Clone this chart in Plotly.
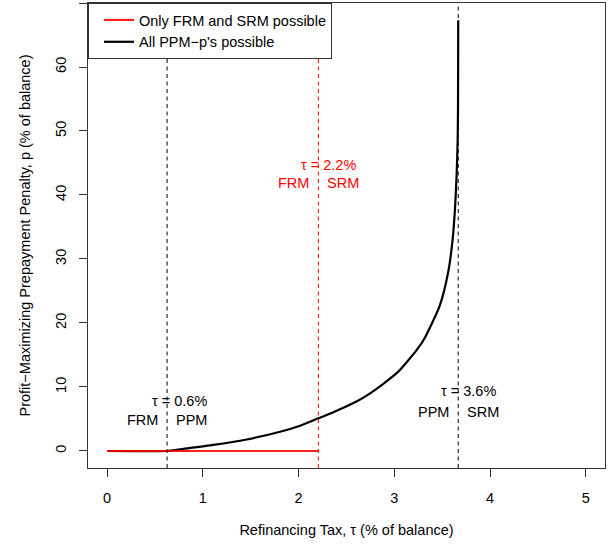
import plotly.graph_objects as go

# Profit-maximizing prepayment penalty as a function of the refinancing tax
tau_all = [0.0, 0.626, 0.76, 1.11, 1.458, 1.806, 2.015, 2.206, 2.362, 2.589,
           2.71, 2.884, 3.041, 3.232, 3.319, 3.476, 3.563, 3.608, 3.633,
           3.650, 3.661, 3.665, 3.667]
p_all = [0.0, 0.0, 0.26, 0.94, 1.8, 3.0, 3.95, 5.1, 6.05, 7.6,
         8.65, 10.5, 12.4, 15.75, 17.7, 22.8, 28.0, 33.0, 37.8,
         43.0, 48.6, 54.0, 67.3]

# Only fixed-rate and standard-rate mortgages: penalty stays at zero
tau_frm_srm = [0.0, 2.206]
p_frm_srm = [0.0, 0.0]

# Regime thresholds (tau values) and their labels
thresholds = [0.626, 2.206, 3.667]
threshold_colors = ["black", "red", "black"]
threshold_text = ["τ = 0.6%", "τ = 2.2%", "τ = 3.6%"]
text_x = [0.755, 2.313, 3.776]
text_y = [7.85, 44.7, 9.3]
left_labels = ["FRM", "FRM", "PPM"]
right_labels = ["PPM", "SRM", "SRM"]
side_y = [4.85, 41.9, 6.1]

x_ticks = [0, 1, 2, 3, 4, 5]
y_ticks = [0, 10, 20, 30, 40, 50, 60, 70]

FONT = "Liberation Sans, Arial, Helvetica, sans-serif"
FS = 14.5

fig = go.Figure()

fig.add_trace(go.Scatter(
    x=tau_all, y=p_all, mode="lines", name="All PPM\u2212p's possible",
    line=dict(color="black", width=2.2, shape="spline", smoothing=0.6),
))
fig.add_trace(go.Scatter(
    x=tau_frm_srm, y=p_frm_srm, mode="lines", name="Only FRM and SRM possible",
    line=dict(color="red", width=2.2), opacity=0.88,
))

for xv, col in zip(thresholds, threshold_colors):
    fig.add_vline(x=xv, line=dict(color=col, width=1, dash="4px,3.5px"))

for i, xv in enumerate(thresholds):
    col = threshold_colors[i]
    fig.add_annotation(x=text_x[i], y=text_y[i], text=threshold_text[i],
                       showarrow=False, xanchor="center", yanchor="middle",
                       font=dict(family=FONT, size=FS, color=col))
    fig.add_annotation(x=xv, y=side_y[i], text=left_labels[i],
                       showarrow=False, xanchor="right", yanchor="middle",
                       xshift=-7, font=dict(family=FONT, size=FS, color=col))
    fig.add_annotation(x=xv, y=side_y[i], text=right_labels[i],
                       showarrow=False, xanchor="left", yanchor="middle",
                       xshift=7, font=dict(family=FONT, size=FS, color=col))

axis_common = dict(
    showgrid=False, zeroline=False, showline=True, mirror=True,
    linecolor="#333", linewidth=1, ticks="outside", ticklen=8,
    tickcolor="#333", tickwidth=1,
    tickfont=dict(family=FONT, size=FS, color="black"),
)

fig.update_xaxes(
    range=[-0.2, 5.2], tickvals=x_ticks, ticktext=[str(v) for v in x_ticks],
    ticklabelstandoff=9,
    title=dict(text="Refinancing Tax, τ (% of balance)",
               font=dict(family=FONT, size=FS, color="black"), standoff=19),
    **axis_common,
)
fig.update_yaxes(
    range=[-2.66, 70.0], tickvals=y_ticks, ticktext=[str(v) for v in y_ticks],
    tickangle=-90, ticklabelstandoff=7,
    title=dict(text="Profit\u2212Maximizing Prepayment Penalty, p (% of balance)",
               font=dict(family=FONT, size=FS, color="black"), standoff=19),
    **axis_common,
)

fig.update_layout(
    width=613, height=546,
    margin=dict(l=88, r=8, t=3, b=78),
    paper_bgcolor="white", plot_bgcolor="white",
    font=dict(family=FONT, size=FS, color="black"),
    legend=dict(x=0, y=1, xanchor="left", yanchor="top",
                bgcolor="white", bordercolor="#333", borderwidth=1,
                traceorder="reversed", indentation=10, entrywidth=205,
                font=dict(family=FONT, size=FS, color="black")),
)

fig.write_html("out.html")
